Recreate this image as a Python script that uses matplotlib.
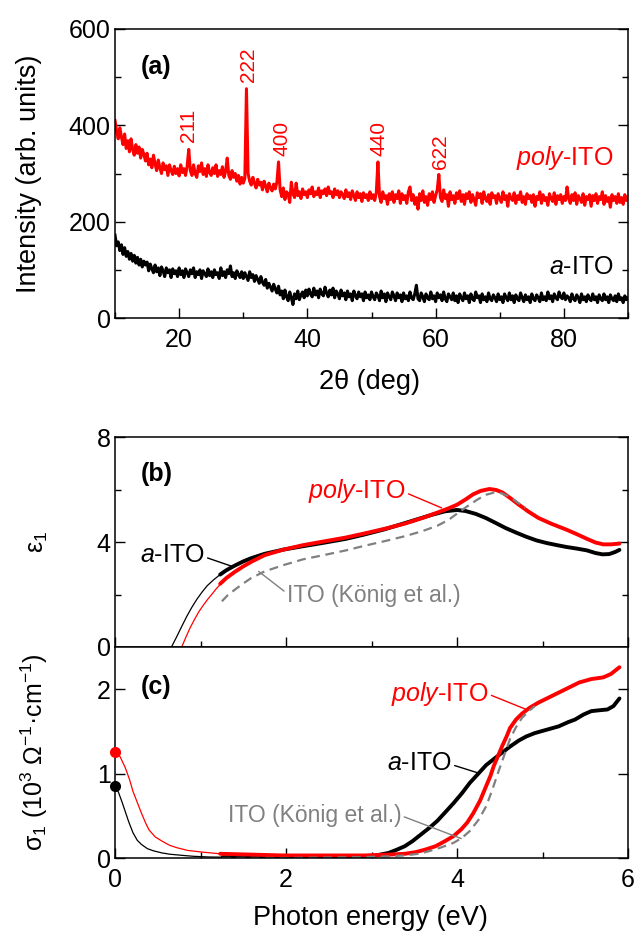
import numpy as np
import matplotlib
matplotlib.use("Agg")
import matplotlib.pyplot as plt
from matplotlib.ticker import MultipleLocator

plt.rcParams['font.family'] = ['Liberation Sans', 'DejaVu Sans']
plt.rcParams['mathtext.fontset'] = 'custom'
plt.rcParams['mathtext.rm'] = 'Liberation Sans'
plt.rcParams['mathtext.it'] = 'Liberation Sans:italic'
plt.rcParams['mathtext.bf'] = 'Liberation Sans:bold'

RED = '#ff0000'
GRAY = '#808080'

# ---- (a) XRD, 2theta grid 10..90 step 0.25 ----
two_theta = np.arange(10, 90.1, 0.25)
xrd_poly = [
    410, 388, 372, 395, 376, 360, 382, 352, 368, 345, 372, 350, 338, 360, 342, 355, 332, 350, 340, 326,
    342, 318, 330, 312, 338, 320, 306, 328, 312, 300, 322, 308, 316, 296, 318, 306, 298, 315, 300, 310,
    295, 318, 302, 310, 296, 315, 350, 306, 296, 318, 300, 292, 316, 304, 322, 298, 310, 294, 318, 302,
    296, 312, 300, 318, 294, 306, 298, 314, 292, 304, 332, 296, 288, 306, 292, 300, 284, 296, 278, 292,
    280, 290, 476, 300, 284, 276, 292, 280, 270, 288, 276, 282, 266, 284, 274, 262, 280, 270, 264, 278,
    268, 282, 324, 266, 252, 270, 246, 262, 258, 240, 282, 258, 250, 280, 254, 262, 248, 268, 256, 262,
    250, 266, 258, 272, 252, 262, 256, 270, 250, 264, 258, 268, 254, 272, 258, 262, 250, 268, 256, 264,
    250, 262, 256, 248, 266, 252, 260, 246, 264, 254, 244, 262, 250, 258, 242, 260, 250, 256, 244, 262,
    248, 256, 244, 260, 324, 252, 240, 262, 248, 254, 236, 258, 246, 262, 240, 256, 248, 264, 238, 258,
    246, 254, 238, 262, 272, 244, 256, 236, 250, 226, 258, 244, 264, 240, 252, 234, 258, 246, 262, 240,
    254, 266, 298, 250, 242, 266, 248, 256, 232, 262, 246, 254, 238, 260, 248, 264, 242, 256, 236, 258,
    248, 262, 240, 256, 246, 234, 260, 250, 258, 238, 262, 248, 242, 256, 236, 260, 250, 254, 238, 258,
    248, 240, 262, 246, 254, 232, 258, 248, 244, 260, 238, 254, 246, 262, 240, 252, 236, 258, 248, 254,
    240, 256, 232, 252, 246, 262, 238, 256, 244, 250, 234, 258, 248, 242, 260, 236, 254, 246, 256, 238,
    252, 244, 272, 248, 238, 256, 244, 260, 236, 254, 248, 240, 258, 234, 252, 246, 256, 232, 254, 244,
    258, 238, 252, 246, 262, 236, 254, 242, 250, 230, 256, 244, 252, 238, 258, 240, 250, 236, 256, 244,
    250,
]
xrd_a = [
    172, 150, 158, 140, 152, 132, 146, 128, 138, 122, 134, 118, 130, 114, 126, 110, 122, 106, 118, 110,
    116, 98, 112, 102, 94, 110, 96, 104, 88, 106, 98, 86, 104, 94, 100, 84, 102, 92, 98, 86,
    104, 90, 98, 84, 102, 94, 86, 100, 92, 104, 84, 96, 90, 100, 82, 98, 92, 86, 102, 88,
    96, 84, 100, 90, 94, 82, 104, 88, 96, 84, 100, 92, 108, 86, 94, 82, 98, 90, 84, 96,
    82, 94, 86, 78, 96, 84, 90, 76, 88, 80, 72, 86, 74, 68, 80, 62, 72, 64, 56, 70,
    60, 52, 66, 48, 56, 40, 58, 44, 36, 54, 42, 28, 50, 40, 56, 38, 48, 54, 42, 58,
    46, 60, 50, 44, 62, 48, 56, 42, 60, 50, 46, 64, 52, 44, 58, 48, 62, 42, 56, 50,
    40, 58, 46, 52, 38, 56, 44, 50, 36, 56, 46, 40, 54, 44, 50, 36, 54, 42, 48, 38,
    54, 44, 38, 52, 46, 36, 56, 42, 50, 34, 52, 44, 38, 54, 46, 36, 52, 42, 48, 34,
    52, 40, 46, 36, 54, 42, 38, 50, 68, 40, 36, 52, 44, 34, 50, 42, 38, 54, 40, 46,
    34, 52, 42, 48, 36, 54, 40, 34, 50, 44, 38, 52, 36, 46, 32, 50, 42, 36, 52, 40,
    46, 32, 50, 40, 36, 54, 42, 46, 32, 50, 38, 44, 34, 52, 40, 36, 48, 42, 34, 50,
    38, 44, 32, 50, 42, 36, 52, 38, 46, 32, 48, 40, 36, 52, 42, 34, 48, 38, 44, 32,
    50, 40, 36, 48, 42, 34, 52, 38, 44, 36, 54, 40, 46, 34, 50, 42, 38, 54, 44, 40,
    52, 38, 46, 42, 34, 50, 40, 36, 48, 42, 32, 50, 38, 44, 34, 48, 40, 36, 50, 38,
    44, 32, 48, 40, 36, 50, 38, 44, 32, 48, 40, 36, 46, 34, 50, 38, 42, 32, 46, 38,
    42,
]
peak_names = ['211', '222', '400', '440', '622']
peak_label_x = [21.5, 30.8, 36.0, 51.2, 60.7]
peak_label_y = [366, 491, 336, 336, 310]

# ---- (b) eps1 ----
eps_a_thin_E = [0.66, 0.72, 0.78, 0.84, 0.90, 0.96, 1.02, 1.08, 1.15, 1.23]
eps_a_thin = [0.0, 0.38, 0.78, 1.17, 1.52, 1.83, 2.10, 2.34, 2.55, 2.76]
eps_a_E = [1.23, 1.30, 1.40, 1.50, 1.59, 1.75, 1.97, 2.20, 2.44, 2.70, 2.91,
           3.15, 3.39, 3.55, 3.70, 3.86, 4.00, 4.10, 4.22, 4.34, 4.45, 4.57,
           4.69, 4.81, 4.93, 5.05, 5.17, 5.28, 5.40, 5.52, 5.62, 5.70, 5.78,
           5.85, 5.90]
eps_a = [2.76, 2.92, 3.10, 3.26, 3.38, 3.55, 3.71, 3.84, 3.97, 4.12, 4.28,
         4.48, 4.72, 4.88, 5.03, 5.17, 5.22, 5.18, 5.07, 4.91, 4.73, 4.53,
         4.36, 4.20, 4.06, 3.96, 3.88, 3.81, 3.75, 3.68, 3.58, 3.53, 3.54,
         3.62, 3.70]
eps_p_thin_E = [0.78, 0.83, 0.88, 0.93, 0.98, 1.03, 1.08, 1.14, 1.19, 1.23]
eps_p_thin = [0.0, 0.38, 0.74, 1.05, 1.34, 1.58, 1.80, 2.04, 2.24, 2.38]
eps_p_E = [1.23, 1.30, 1.40, 1.50, 1.59, 1.75, 1.97, 2.20, 2.44, 2.70, 2.91,
           3.15, 3.39, 3.60, 3.77, 3.90, 4.00, 4.10, 4.19, 4.28, 4.38, 4.46,
           4.53, 4.62, 4.72, 4.83, 4.95, 5.10, 5.28, 5.40, 5.52, 5.62, 5.71,
           5.80, 5.90]
eps_p = [2.41, 2.62, 2.86, 3.07, 3.24, 3.50, 3.71, 3.88, 4.02, 4.17, 4.32,
         4.50, 4.70, 4.92, 5.12, 5.28, 5.42, 5.62, 5.82, 5.95, 6.02, 5.98,
         5.89, 5.68, 5.43, 5.17, 4.92, 4.70, 4.47, 4.30, 4.12, 3.98, 3.91,
         3.91, 3.94]
eps_k_E = [1.25, 1.32, 1.40, 1.50, 1.59, 1.75, 1.97, 2.20, 2.44, 2.70, 2.91,
           3.15, 3.39, 3.60, 3.77, 3.90, 4.00, 4.12, 4.24, 4.34, 4.43, 4.52,
           4.62, 4.70, 4.80]
eps_k = [1.74, 1.98, 2.18, 2.42, 2.62, 2.88, 3.12, 3.34, 3.50, 3.68, 3.85,
         4.03, 4.22, 4.42, 4.62, 4.84, 5.08, 5.36, 5.62, 5.80, 5.88, 5.86,
         5.72, 5.52, 5.30]

# ---- (c) sigma1 (10^3 Ohm^-1 cm^-1) ----
sig_a_thin_E = [0.0, 0.04, 0.08, 0.12, 0.16, 0.21, 0.26, 0.31, 0.38, 0.45,
                0.55, 0.64, 0.80, 0.92, 1.10, 1.26]
sig_a_thin = [0.85, 0.78, 0.67, 0.55, 0.43, 0.30, 0.21, 0.16, 0.11, 0.085,
              0.06, 0.045, 0.03, 0.02, 0.012, 0.01]
sig_a_E = [1.26, 1.60, 1.97, 2.50, 2.91, 3.05, 3.20, 3.30, 3.39, 3.48, 3.58,
           3.68, 3.77, 3.87, 3.96, 4.06, 4.15, 4.25, 4.34, 4.44, 4.53, 4.62,
           4.72, 4.81, 4.91, 5.05, 5.19, 5.30, 5.38, 5.48, 5.57, 5.66, 5.76,
           5.83, 5.90]
sig_a = [0.01, 0.005, 0.0, 0.0, 0.01, 0.03, 0.06, 0.10, 0.14, 0.20, 0.28,
         0.36, 0.44, 0.55, 0.65, 0.77, 0.89, 1.00, 1.10, 1.18, 1.25, 1.32,
         1.39, 1.44, 1.48, 1.52, 1.56, 1.61, 1.64, 1.70, 1.74, 1.75, 1.76,
         1.80, 1.89]
sig_p_thin_E = [0.0, 0.06, 0.12, 0.17, 0.21, 0.26, 0.31, 0.36, 0.40, 0.47,
                0.55, 0.64, 0.73, 0.85, 1.02, 1.23]
sig_p_thin = [1.26, 1.20, 1.07, 0.93, 0.79, 0.66, 0.53, 0.41, 0.33, 0.25,
              0.20, 0.15, 0.12, 0.09, 0.07, 0.05]
sig_p_E = [1.23, 1.60, 1.97, 2.50, 2.91, 3.20, 3.39, 3.52, 3.63, 3.75, 3.86,
           3.96, 4.05, 4.12, 4.19, 4.27, 4.34, 4.39, 4.43, 4.48, 4.53, 4.58,
           4.62, 4.69, 4.76, 4.85, 4.95, 5.07, 5.19, 5.31, 5.43, 5.57, 5.71,
           5.80, 5.90]
sig_p = [0.05, 0.04, 0.03, 0.03, 0.03, 0.04, 0.05, 0.07, 0.10, 0.14, 0.20,
         0.26, 0.34, 0.42, 0.53, 0.68, 0.85, 0.97, 1.09, 1.21, 1.33, 1.44,
         1.54, 1.64, 1.71, 1.78, 1.84, 1.90, 1.96, 2.02, 2.08, 2.12, 2.14,
         2.18, 2.26]
sig_k_E = [1.25, 2.00, 2.91, 3.20, 3.39, 3.55, 3.67, 3.80, 3.96, 4.06, 4.15,
           4.25, 4.34, 4.41, 4.48, 4.55, 4.62, 4.69, 4.76, 4.84, 4.91]
sig_k = [0.0, 0.0, 0.01, 0.02, 0.03, 0.05, 0.08, 0.12, 0.18, 0.24, 0.32,
         0.45, 0.61, 0.80, 1.01, 1.21, 1.41, 1.55, 1.66, 1.74, 1.80]


def style(ax):
    ax.tick_params(which='both', direction='in', top=False, right=True,
                   labelsize=18, width=1)
    ax.tick_params(which='major', length=7)
    ax.tick_params(which='minor', length=4)
    ax.tick_params(axis='y', pad=3)
    ax.tick_params(axis='x', pad=7)
    for s in ax.spines.values():
        s.set_linewidth(1.1)


fig = plt.figure(figsize=(6.35, 9.48), dpi=100)
W, H = 635, 948


def px_axes(left, top, right, bottom):
    return fig.add_axes([left / W, 1 - bottom / H, (right - left) / W,
                         (bottom - top) / H])


# (a)
ax1 = px_axes(115, 29, 628, 318)
ax1.plot(two_theta, xrd_poly, color=RED, lw=2.2)
ax1.plot(two_theta, xrd_a, color='black', lw=2.2)
ax1.set_xlim(10, 90)
ax1.set_ylim(0, 600)
ax1.xaxis.set_major_locator(MultipleLocator(20))
ax1.xaxis.set_minor_locator(MultipleLocator(10))
ax1.yaxis.set_major_locator(MultipleLocator(200))
ax1.yaxis.set_minor_locator(MultipleLocator(100))
style(ax1)
ax1.set_xlabel('2θ (deg)', fontsize=19.5, va='center')
ax1.xaxis.set_label_coords(0.497, -0.221)
ax1.set_ylabel('Intensity (arb. units)', fontsize=19.5, va='center')
ax1.yaxis.set_label_coords(-0.168, 0.5)
for name, px, py in zip(peak_names, peak_label_x, peak_label_y):
    ax1.text(px, py, name, color=RED, fontsize=15, rotation=90,
             ha='center', va='bottom')
ax1.text(87.7, 332, r'$\mathit{poly}$-ITO', color=RED, fontsize=18,
         ha='right', va='center')
ax1.text(87.7, 106, r'$\mathit{a}$-ITO', color='black', fontsize=18,
         ha='right', va='center')
ax1.text(0.05, 0.91, '(a)', transform=ax1.transAxes, fontsize=18,
         fontweight='bold', ha='left', va='top')

# (b)
ax2 = px_axes(115, 437, 628, 647)
ax2.plot(eps_a_thin_E, eps_a_thin, color='black', lw=0.9)
ax2.plot(eps_p_thin_E, eps_p_thin, color=RED, lw=0.9)
ax2.plot(eps_a_E, eps_a, color='black', lw=2.8, solid_capstyle='round')
ax2.plot(eps_p_E, eps_p, color=RED, lw=2.8, solid_capstyle='round')
ax2.plot(eps_k_E, eps_k, color=GRAY, lw=1.6, ls=(0, (4, 2.5)))
ax2.set_xlim(0, 6)
ax2.set_ylim(0, 8)
ax2.xaxis.set_major_locator(MultipleLocator(2))
ax2.xaxis.set_minor_locator(MultipleLocator(1))
ax2.yaxis.set_major_locator(MultipleLocator(4))
ax2.yaxis.set_minor_locator(MultipleLocator(2))
style(ax2)
ax2.tick_params(axis='x', labelbottom=False)
ax2.set_ylabel('ε$_1$', fontsize=18, va='center')
ax2.yaxis.set_label_coords(-0.150, 0.5)
ax2.text(0.05, 0.88, '(b)', transform=ax2.transAxes, fontsize=18,
         fontweight='bold', ha='left', va='top')
lead = dict(arrowstyle='-', lw=1.0, shrinkA=0, shrinkB=0)
ax2.annotate(r'$\mathit{a}$-ITO', xy=(1.37, 3.07), xytext=(1.05, 3.52),
             fontsize=18, ha='right', va='center', color='black',
             arrowprops=dict(lead, color='black', relpos=(1, 0.4)))
ax2.annotate(r'$\mathit{poly}$-ITO', xy=(3.82, 5.30), xytext=(3.40, 5.93),
             fontsize=18, ha='right', va='center', color=RED,
             arrowprops=dict(lead, color=RED, relpos=(1, 0.45)))
ax2.annotate('ITO (König et al.)', xy=(1.68, 2.88), xytext=(2.01, 1.96),
             fontsize=16.5, ha='left', va='center', color=GRAY,
             arrowprops=dict(lead, color=GRAY, relpos=(0, 0.6)))

# (c)
ax3 = px_axes(115, 647, 628, 858)
ax3.plot(sig_a_thin_E, sig_a_thin, color='black', lw=0.9)
ax3.plot(sig_p_thin_E, sig_p_thin, color=RED, lw=0.9)
ax3.plot(sig_a_E, sig_a, color='black', lw=2.8, solid_capstyle='round')
ax3.plot(sig_p_E, sig_p, color=RED, lw=2.8, solid_capstyle='round')
ax3.plot(sig_k_E, sig_k, color=GRAY, lw=1.6, ls=(0, (4, 2.5)))
ax3.plot(sig_a_thin_E[:1], sig_a_thin[:1], 'o', color='black', ms=7,
         clip_on=False, zorder=5)
ax3.plot(sig_p_thin_E[:1], sig_p_thin[:1], 'o', color=RED, ms=7,
         clip_on=False, zorder=5)
ax3.set_xlim(0, 6)
ax3.set_ylim(0, 2.5)
ax3.xaxis.set_major_locator(MultipleLocator(2))
ax3.xaxis.set_minor_locator(MultipleLocator(1))
ax3.yaxis.set_major_locator(MultipleLocator(1))
style(ax3)
ax3.set_xlabel('Photon energy (eV)', fontsize=19.5, va='center')
ax3.xaxis.set_label_coords(0.497, -0.284)
ax3.set_ylabel('σ$_1$ (10$^3$ Ω$^{-1}$·cm$^{-1}$)', fontsize=18,
               va='center')
ax3.yaxis.set_label_coords(-0.158, 0.5)
ax3.text(0.05, 0.867, '(c)', transform=ax3.transAxes, fontsize=18,
         fontweight='bold', ha='left', va='top')
ax3.annotate(r'$\mathit{poly}$-ITO', xy=(4.81, 1.76), xytext=(4.37, 1.94),
             fontsize=18, ha='right', va='center', color=RED,
             arrowprops=dict(lead, color=RED, relpos=(1, 0.5)))
ax3.annotate(r'$\mathit{a}$-ITO', xy=(4.24, 1.01), xytext=(3.94, 1.12),
             fontsize=18, ha='right', va='center', color='black',
             arrowprops=dict(lead, color='black', relpos=(1, 0.45)))
ax3.annotate('ITO (König et al.)', xy=(4.05, 0.23), xytext=(3.35, 0.50),
             fontsize=16.5, ha='right', va='center', color=GRAY,
             arrowprops=dict(lead, color=GRAY, relpos=(1, 0.5)))

fig.savefig('out.png', dpi=100)
